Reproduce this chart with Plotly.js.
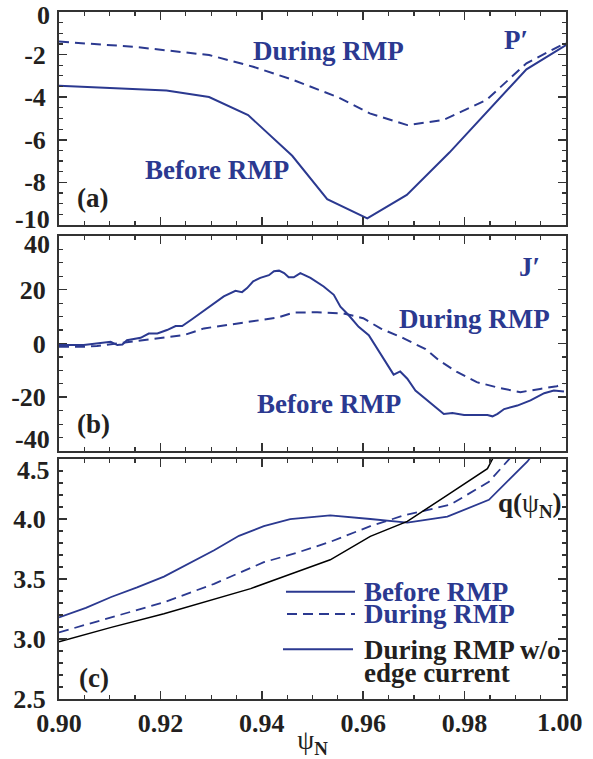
<!DOCTYPE html>
<html><head><meta charset="utf-8">
<script src="https://cdn.plot.ly/plotly-3.0.1.min.js"></script>
<style>body{margin:0;background:#fff}#chart{width:593px;height:759px}</style>
</head><body><div id="chart"></div>
<script>
// ---- Panel (a): P'
const psiP_before = [0.900, 0.9212, 0.9296, 0.9373, 0.9460, 0.9529, 0.9608, 0.9686, 0.9770, 0.9922, 1.000];
const P_before    = [-3.46, -3.69, -3.99, -4.84, -6.75, -8.79, -9.69, -8.59, -6.60, -2.69, -1.55];
const psiP_during = [0.900, 0.9147, 0.9296, 0.9383, 0.9462, 0.9550, 0.9613, 0.9687, 0.9758, 0.9843, 0.9922, 1.000];
const P_during    = [-1.39, -1.63, -2.02, -2.57, -3.19, -4.00, -4.76, -5.31, -5.07, -4.13, -2.41, -1.44];

// ---- Panel (b): J'
const psiJ_before = [0.9000,0.9049,0.9102,0.9115,0.9125,0.9134,0.9161,0.9177,0.9194,0.9213,0.9230,0.9243,0.9263,0.9292,0.9325,0.9348,0.9361,0.9371,0.9383,0.9397,0.9414,0.9424,0.9434,0.9444,0.9453,0.9463,0.9476,0.9496,0.9522,0.9542,0.9555,0.9571,0.9591,0.9611,0.9634,0.9660,0.9673,0.9687,0.9703,0.9723,0.9743,0.9759,0.9776,0.9799,0.9845,0.9855,0.9865,0.9878,0.9904,0.9930,0.9957,0.9976,0.9996];
const J_before    = [-0.6,-0.6,0.6,-0.6,-0.4,1.2,2.1,3.7,3.7,5.0,6.5,6.5,9.1,13.1,17.5,19.6,19.1,20.6,23.1,24.4,25.4,26.9,27.1,26.2,24.6,24.6,26.2,24.4,21.2,18.1,13.7,10.6,6.2,3.1,-3.7,-11.6,-10.4,-13.1,-17.5,-20.6,-23.4,-26.2,-25.9,-26.6,-26.6,-27.1,-26.2,-24.4,-23.1,-21.2,-18.5,-17.5,-17.9];
const psiJ_during = [0.9000,0.9049,0.9075,0.9115,0.9154,0.9200,0.9246,0.9286,0.9338,0.9391,0.9430,0.9463,0.9509,0.9561,0.9600,0.9634,0.9680,0.9723,0.9749,0.9785,0.9824,0.9870,0.9910,0.9949,0.9982,0.9996];
const J_during    = [-1.2,-1.2,-0.9,0.0,0.9,2.1,3.1,5.6,7.1,8.4,9.6,11.5,11.6,11.2,9.4,5.6,1.9,-2.1,-6.2,-10.6,-14.4,-16.6,-18.1,-16.9,-15.9,-15.0];

// ---- Panel (c): q(psi_N)
const psiQ_before = [0.900,0.9053,0.9103,0.9154,0.9207,0.9256,0.9306,0.9355,0.9404,0.9456,0.9535,0.9614,0.9687,0.9766,0.9848,0.9924,0.9945];
const q_before    = [3.18,3.26,3.35,3.43,3.52,3.63,3.74,3.86,3.94,4.00,4.03,4.00,3.97,4.02,4.16,4.48,4.60];
const psiQ_during = [0.900,0.9103,0.9207,0.9306,0.9404,0.9470,0.9535,0.9614,0.9680,0.9772,0.9848,0.9888,0.9910];
const q_during    = [3.055,3.18,3.306,3.46,3.64,3.72,3.81,3.94,4.03,4.12,4.31,4.50,4.60];
const psiQ_noedge = [0.900,0.9103,0.9207,0.9306,0.9378,0.9456,0.9535,0.9614,0.9687,0.9766,0.9845,0.9855,0.9862];
const q_noedge    = [2.977,3.097,3.21,3.33,3.42,3.54,3.66,3.855,3.98,4.20,4.42,4.50,4.60];

// ---- tick labels (edge labels are drawn nudged inside, as in the reference)
const xTickVals = [0.90,0.92,0.94,0.96,0.98];
const xTickText = ['0.90','0.92','0.94','0.96','0.98'];
const yaTickVals = [-2,-4,-6,-8];
const yaTickText = ['-2','-4','-6','-8'];
const ybTickVals = [20,0,-20];
const ybTickText = ['20','0','-20'];
const ycTickVals = [4.0,3.5,3.0,2.5];
const ycTickText = ['4.0','3.5','3.0','2.5'];

const NAVY = '#2b3990';
const INK = '#231f20';
const FONT = 'Liberation Serif, Times New Roman, serif';
const tickFont = {family: FONT, size: 26, weight: 'bold', color: INK};
const DASH = '10px,6px';

const traces = [
  {x: psiP_before, y: P_before, xaxis: 'x', yaxis: 'y', mode: 'lines', line: {color: NAVY, width: 2}},
  {x: psiP_during, y: P_during, xaxis: 'x', yaxis: 'y', mode: 'lines', line: {color: NAVY, width: 2, dash: DASH}},
  {x: psiJ_before, y: J_before, xaxis: 'x2', yaxis: 'y2', mode: 'lines', line: {color: NAVY, width: 2}},
  {x: psiJ_during, y: J_during, xaxis: 'x2', yaxis: 'y2', mode: 'lines', line: {color: NAVY, width: 2, dash: DASH}},
  {x: psiQ_before, y: q_before, xaxis: 'x3', yaxis: 'y3', mode: 'lines', line: {color: NAVY, width: 1.8}},
  {x: psiQ_during, y: q_during, xaxis: 'x3', yaxis: 'y3', mode: 'lines', line: {color: NAVY, width: 1.8, dash: DASH}},
  {x: psiQ_noedge, y: q_noedge, xaxis: 'x3', yaxis: 'y3', mode: 'lines', line: {color: '#000', width: 1.5}}
];

const axisBase = {
  showline: true, linecolor: '#333', linewidth: 2, mirror: 'allticks',
  ticks: 'inside', ticklen: 8, tickwidth: 1.5, tickcolor: '#333',
  showgrid: false, zeroline: false, tickfont: tickFont, ticklabelstandoff: 6,
  fixedrange: true
};
function xAxis(anchor, showLabels) {
  return Object.assign({}, axisBase, {
    anchor: anchor, range: [0.9, 1.0], tickmode: 'array', tickvals: xTickVals, ticktext: xTickText,
    showticklabels: showLabels, ticklabelstandoff: 0,
    minor: {tick0: 0.9, dtick: 0.005, ticks: 'inside', ticklen: 4, tickwidth: 1.2, tickcolor: '#333'}
  });
}
function yAxis(anchor, domain, range, vals, text, mdt) {
  return Object.assign({}, axisBase, {
    anchor: anchor, domain: domain, range: range, tickmode: 'array', tickvals: vals, ticktext: text,
    minor: {tick0: range[0], dtick: mdt, ticks: 'inside', ticklen: 4, tickwidth: 1.2, tickcolor: '#333'}
  });
}

const annFont = (c, s) => ({family: FONT, size: s || 27, weight: 'bold', color: c});
const ann = (xref, yref, x, y, text, color, extra) => Object.assign({
  xref: xref, yref: yref, x: x, y: y, text: text, showarrow: false,
  font: annFont(color), xanchor: 'center', yanchor: 'middle'
}, extra || {});
const edge = (yref, y, text, yshift) => ann('paper', yref, 0, y, text, INK,
  {xanchor: 'right', xshift: -7, yshift: yshift, font: tickFont});

const annotations = [
  // edge tick labels, nudged inside the frame as in the reference
  edge('y', 0, '0', -3),
  edge('y', -10, '-10', 5),
  edge('y2', 40, '40', -9),
  edge('y2', -40, '-40', 11),
  edge('y3', 4.5, '4.5', -11),
  ann('x3', 'paper', 1.0, 0, '1.00', INK, {yanchor: 'top', xshift: -6, yshift: -7, font: tickFont}),
  // panel (a)
  ann('x', 'y', 0.9531, -1.83, 'During RMP', NAVY),
  ann('x', 'y', 0.9312, -7.44, 'Before RMP', NAVY),
  ann('x', 'y', 0.9902, -1.31, 'P′', NAVY),
  ann('x', 'y', 0.9067, -8.73, '(a)', INK),
  // panel (b)
  ann('x2', 'y2', 0.9820, 9.1, 'During RMP', NAVY),
  ann('x2', 'y2', 0.9532, -22.6, 'Before RMP', NAVY),
  ann('x2', 'y2', 0.9928, 28.4, 'J′', NAVY),
  ann('x2', 'y2', 0.9068, -30.0, '(b)', INK),
  // panel (c)
  ann('x3', 'y3', 0.9928, 4.115, 'q(<span style="font-weight:normal">ψ</span><sub>N</sub>)', INK),
  ann('x3', 'y3', 0.9070, 2.675, '(c)', INK),
  // legend text
  ann('paper', 'paper', 0.5976, 0.1562, 'Before RMP', NAVY, {xanchor: 'left'}),
  ann('paper', 'paper', 0.5976, 0.1237, 'During RMP', NAVY, {xanchor: 'left'}),
  ann('paper', 'paper', 0.5976, 0.0713, 'During RMP w/o', INK, {xanchor: 'left'}),
  ann('paper', 'paper', 0.5976, 0.0378, 'edge current', INK, {xanchor: 'left'})
];

const shapes = [
  {type: 'line', xref: 'paper', yref: 'paper', x0: 0.4477, x1: 0.5838, y0: 0.1562, y1: 0.1562, line: {color: NAVY, width: 2}},
  {type: 'line', xref: 'paper', yref: 'paper', x0: 0.4497, x1: 0.5838, y0: 0.1237, y1: 0.1237, line: {color: NAVY, width: 2, dash: DASH}},
  {type: 'line', xref: 'paper', yref: 'paper', x0: 0.4418, x1: 0.5799, y0: 0.0723, y1: 0.0723, line: {color: NAVY, width: 2}}
];

const layout = {
  width: 593, height: 759,
  margin: {l: 59, r: 27, t: 12, b: 60},
  paper_bgcolor: '#fff', plot_bgcolor: '#fff',
  showlegend: false,
  xaxis: xAxis('y', false),
  xaxis2: xAxis('y2', false),
  xaxis3: Object.assign(xAxis('y3', true), {
    title: {text: 'ψ<sub><b>N</b></sub>', font: {family: FONT, size: 27, color: INK}, standoff: 1}
  }),
  yaxis: yAxis('x', [0.690, 1.0], [-10, 0], yaTickVals, yaTickText, 0.5),
  yaxis2: yAxis('x2', [0.361, 0.674], [-40, 40], ybTickVals, ybTickText, 5),
  yaxis3: yAxis('x3', [0, 0.3493], [2.5, 4.5], ycTickVals, ycTickText, 0.1),
  annotations: annotations,
  shapes: shapes
};

Plotly.newPlot('chart', traces, layout, {displayModeBar: false, staticPlot: true});
</script></body></html>
